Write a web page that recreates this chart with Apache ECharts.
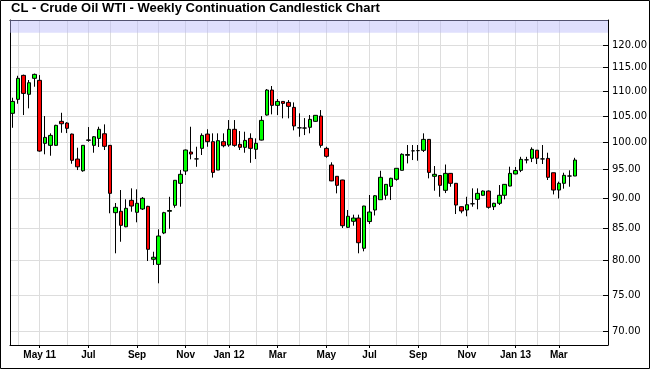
<!DOCTYPE html>
<html><head><meta charset="utf-8">
<script src="https://cdn.jsdelivr.net/npm/echarts@6/dist/echarts.min.js"></script>
<style>html,body{margin:0;padding:0;background:#fff}#c{width:650px;height:369px}</style>
</head><body><div id="c"></div>
<script>
const weeks = [
'2011-03-28','2011-04-04','2011-04-11','2011-04-18','2011-04-25','2011-05-02','2011-05-09','2011-05-16','2011-05-23','2011-05-30',
'2011-06-06','2011-06-13','2011-06-20','2011-06-27','2011-07-04','2011-07-11','2011-07-18','2011-07-25','2011-08-01','2011-08-08',
'2011-08-15','2011-08-22','2011-08-29','2011-09-05','2011-09-12','2011-09-19','2011-09-26','2011-10-03','2011-10-10','2011-10-17',
'2011-10-24','2011-10-31','2011-11-07','2011-11-14','2011-11-21','2011-11-28','2011-12-05','2011-12-12','2011-12-19','2011-12-26',
'2012-01-02','2012-01-09','2012-01-16','2012-01-23','2012-01-30','2012-02-06','2012-02-13','2012-02-20','2012-02-27','2012-03-05',
'2012-03-12','2012-03-19','2012-03-26','2012-04-02','2012-04-09','2012-04-16','2012-04-23','2012-04-30','2012-05-07','2012-05-14',
'2012-05-21','2012-05-28','2012-06-04','2012-06-11','2012-06-18','2012-06-25','2012-07-02','2012-07-09','2012-07-16','2012-07-23',
'2012-07-30','2012-08-06','2012-08-13','2012-08-20','2012-08-27','2012-09-03','2012-09-10','2012-09-17','2012-09-24','2012-10-01',
'2012-10-08','2012-10-15','2012-10-22','2012-10-29','2012-11-05','2012-11-12','2012-11-19','2012-11-26','2012-12-03','2012-12-10',
'2012-12-17','2012-12-24','2012-12-31','2013-01-07','2013-01-14','2013-01-21','2013-01-28','2013-02-04','2013-02-11','2013-02-18',
'2013-02-25','2013-03-04','2013-03-11','2013-03-18','2013-03-25'];

const open = [
105.55,108.36,113.36,109.39,112.73,112.31,99.76,99.38,99.38,103.97,
103.64,101.51,96.85,94.74,100.32,99.38,100.69,101.57,99.38,87.56,
87.79,85.27,89.62,87.62,88.17,88.61,80.21,79.45,84.28,87.79,
88.78,92.53,94.69,98.14,96.88,98.82,101.51,100.07,94.87,100.07,
99.44,102.42,99.57,99.01,100.69,98.64,100.37,105.21,110.27,107.14,
107.94,107.74,106.74,102.71,102.67,102.81,103.97,105.01,98.82,95.77,
93.76,93.11,85.18,86.15,86.68,81.89,86.11,88.00,89.72,90.47,
92.00,93.23,94.82,97.54,98.36,98.40,98.45,100.50,93.76,93.90,
91.32,94.28,92.53,88.55,88.00,89.04,89.79,90.47,91.20,88.55,
89.12,90.47,92.06,94.17,94.82,96.71,96.99,98.48,96.88,96.97,
94.39,91.37,92.53,93.81,93.81];
const close = [
107.94,112.73,109.58,111.80,113.57,98.32,100.88,101.26,103.19,103.50,
102.61,96.62,95.45,99.38,100.40,101.00,102.42,99.20,90.80,88.45,
85.50,88.28,88.66,89.12,89.96,81.73,80.52,83.80,87.56,87.92,
93.06,94.11,98.51,97.77,96.88,101.26,100.07,94.45,100.26,99.31,
102.42,99.38,99.01,100.31,98.82,99.76,104.16,110.27,107.14,107.94,
107.54,106.94,103.06,102.71,102.67,104.36,105.15,99.38,97.35,92.95,
92.18,85.44,86.97,86.68,82.75,88.66,87.67,90.39,93.58,92.35,
93.41,95.18,97.72,97.68,98.36,98.40,100.50,94.45,94.11,92.18,
94.28,92.53,88.83,87.84,88.88,89.04,90.80,91.20,88.45,89.12,
90.47,92.35,94.28,94.78,96.80,96.71,98.64,96.99,96.88,93.58,
91.37,92.53,93.93,93.81,96.67];
const low = [
102.72,107.47,105.21,106.54,110.96,98.20,97.72,97.46,99.30,101.76,
101.70,96.00,94.87,94.57,100.05,98.01,99.07,98.51,87.46,81.12,
82.90,85.20,87.72,85.99,88.00,79.95,79.35,76.67,84.10,84.95,
88.38,88.55,93.99,96.80,95.45,97.59,99.12,93.53,94.87,99.01,
99.12,99.12,98.51,98.01,96.17,96.85,100.30,105.10,105.35,105.21,
104.56,104.56,102.22,101.00,101.32,101.65,103.90,98.94,97.10,92.90,
90.80,85.07,85.10,85.44,81.12,81.42,85.71,87.10,89.70,89.73,
89.67,92.99,94.80,96.06,96.67,96.55,98.14,93.40,91.25,90.22,
90.85,91.94,87.34,87.46,86.97,88.55,88.12,90.40,88.22,88.00,
88.83,89.79,92.00,94.10,94.50,96.06,96.30,95.95,95.95,93.11,
90.62,89.93,91.60,91.94,93.80];
const high = [
108.69,113.27,113.52,112.37,113.74,113.42,105.01,101.65,103.30,105.66,
103.80,101.60,98.94,99.44,102.86,101.13,102.92,103.38,99.44,89.17,
91.37,89.79,91.66,91.49,90.17,88.70,81.36,84.86,87.70,90.22,
93.10,94.87,98.60,102.92,99.12,101.65,102.42,101.65,101.65,101.65,
104.22,104.22,102.09,101.96,101.65,100.69,105.01,110.48,111.11,108.42,
108.00,108.21,107.74,105.55,104.61,105.21,105.20,106.20,99.12,96.26,
93.80,93.15,88.00,87.23,87.23,88.70,90.52,90.50,94.74,92.40,
93.50,95.20,97.90,99.44,99.44,99.44,101.65,100.55,95.59,93.95,
95.86,94.30,92.55,88.60,90.22,91.66,91.66,91.30,91.30,89.20,
92.23,92.40,95.47,95.41,97.26,97.26,99.01,98.50,99.44,98.01,
94.40,92.82,94.39,94.82,97.08];

const labelWeeks = ['2011-05-02','2011-07-04','2011-09-05','2011-11-07','2012-01-02','2012-03-05',
                    '2012-05-07','2012-07-02','2012-09-03','2012-11-05','2013-01-07','2013-03-04'];
const labelTexts = ['May 11','Jul','Sep','Nov','Jan 12','Mar','May','Jul','Sep','Nov','Jan 13','Mar'];
const gridWeeks = ['2011-04-04','2011-05-02','2011-06-06','2011-07-04','2011-08-01','2011-09-05','2011-10-03',
                   '2011-11-07','2011-12-05','2012-01-02','2012-02-06','2012-03-05','2012-04-02','2012-05-07',
                   '2012-06-04','2012-07-02','2012-08-06','2012-09-03','2012-10-01','2012-11-05','2012-12-03',
                   '2013-01-07','2013-02-04','2013-03-04'];
const priceTicks = [70, 75, 80, 85, 90, 95, 100, 105, 110, 115, 120];

const labelIdx = labelWeeks.map(w => weeks.indexOf(w));
const gridIdx = gridWeeks.map(w => weeks.indexOf(w));
const ohlc = weeks.map((w, i) => [i, open[i], close[i], low[i], high[i]]);

const X_MIN = -0.5, X_MAX = 110.1, Y_MIN = 68.27, Y_MAX = 125.8;

const chart = echarts.init(document.getElementById('c'), null, {renderer: 'canvas'});
chart.setOption({
  animation: false,
  backgroundColor: '#fff',
  title: {
    text: 'CL - Crude Oil WTI - Weekly Continuation Candlestick Chart',
    left: 11, top: 2, padding: 0,
    textStyle: {fontFamily: 'Liberation Sans', fontSize: 13, fontWeight: 'bold', color: '#000'}
  },
  graphic: [{
    type: 'rect', silent: true, z: 100,
    shape: {x: 0.5, y: 0.5, width: 649, height: 368},
    style: {fill: 'none', stroke: '#000', lineWidth: 1}
  }],
  grid: {left: 10, right: 42, top: 20, bottom: 24, containLabel: false, outerBoundsMode: 'none'},
  xAxis: [{
    type: 'value', position: 'bottom', min: X_MIN, max: X_MAX,
    axisLine: {show: true, onZero: false, lineStyle: {color: '#000', width: 1}},
    axisTick: {show: true, inside: false, length: 3, customValues: labelIdx, lineStyle: {color: '#000'}},
    axisLabel: {
      customValues: labelIdx, margin: 5,
      formatter: v => labelTexts[labelIdx.indexOf(Math.round(v))] || '',
      fontFamily: 'Liberation Sans', fontSize: 10, fontWeight: 'bold', color: '#000'
    },
    splitLine: {show: false}
  }, {
    type: 'value', position: 'top', min: X_MIN, max: X_MAX,
    axisLine: {show: true, onZero: false, lineStyle: {color: '#000', width: 1}},
    axisTick: {show: false, customValues: gridIdx},
    axisLabel: {show: false},
    splitLine: {show: true, lineStyle: {color: '#dddddd', width: 1}}
  }],
  yAxis: [{
    type: 'log', logBase: 10, position: 'right', min: Y_MIN, max: Y_MAX,
    axisLine: {show: true, onZero: false, lineStyle: {color: '#000', width: 1}},
    axisTick: {show: true, inside: true, length: 5, customValues: priceTicks, lineStyle: {color: '#000'}},
    axisLabel: {
      customValues: priceTicks, margin: 4,
      formatter: v => Number(v).toFixed(2),
      fontFamily: 'DejaVu Sans', fontSize: 10, color: '#000'
    },
    splitLine: {show: true, lineStyle: {color: '#dddddd', width: 1}}
  }, {
    type: 'value', position: 'left', min: 0, max: 1,
    axisLine: {show: true, onZero: false, lineStyle: {color: '#000', width: 1}},
    axisTick: {show: false}, axisLabel: {show: false}, splitLine: {show: false}
  }],
  series: [{
    type: 'candlestick',
    xAxisIndex: 0, yAxisIndex: 0,
    data: ohlc,
    encode: {x: 0, y: [1, 2, 3, 4]},
    barWidth: 4,
    itemStyle: {
      color: '#00ff00', color0: '#ff0000',
      borderColor: '#000', borderColor0: '#000', borderColorDoji: '#000', borderWidth: 1
    },
    markArea: {
      silent: true,
      itemStyle: {color: 'rgba(185,185,250,0.45)'},
      data: [[{xAxis: X_MIN, yAxis: 122.8}, {xAxis: X_MAX, yAxis: Y_MAX}]]
    }
  }]
});
</script>
</body></html>
